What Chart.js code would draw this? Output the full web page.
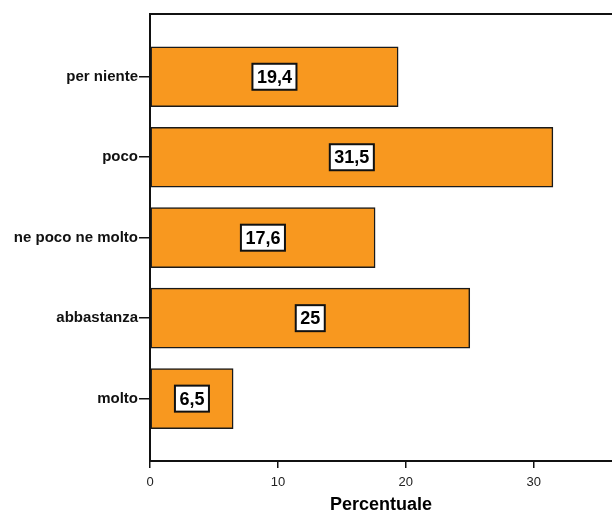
<!DOCTYPE html>
<html>
<head>
<meta charset="utf-8">
<script src="https://cdn.jsdelivr.net/npm/chart.js@4/dist/chart.umd.min.js"></script>
<style>
  body { margin: 0; background: #fff; }
</style>
</head>
<body>
<canvas id="myChart" width="612" height="516"></canvas>
<script>
// Dati del grafico
const categorie = ["per niente", "poco", "ne poco ne molto", "abbastanza", "molto"];
const percentuali = [19.4, 31.5, 17.6, 25, 6.5];
const tickX = [0, 10, 20, 30];

// Etichette dei valori in un riquadro bianco
const etichette = {
    id: "etichette",
    afterDatasetsDraw(chart) {
        const ctx = chart.ctx;
        const meta = chart.getDatasetMeta(0);
        ctx.save();
        ctx.font = "bold 18px 'Liberation Sans', Arial, sans-serif";
        ctx.textAlign = "center";
        ctx.textBaseline = "middle";
        meta.data.forEach((bar, i) => {
            const testo = String(percentuali[i]).replace(".", ",");
            const cx = (bar.x + bar.base) / 2;
            const cy = bar.y;
            const w = ctx.measureText(testo).width + 9;
            const h = 26;
            ctx.fillStyle = "#fff";
            ctx.fillRect(cx - w / 2, cy - h / 2, w, h);
            ctx.lineWidth = 2;
            ctx.strokeStyle = "#111";
            ctx.strokeRect(cx - w / 2, cy - h / 2, w, h);
            ctx.fillStyle = "#000";
            ctx.fillText(testo, cx, cy + 1);
        });
        ctx.restore();
    }
};

// Linea superiore della cornice
const cornice = {
    id: "cornice",
    afterDraw(chart) {
        const { ctx, chartArea } = chart;
        ctx.save();
        ctx.strokeStyle = "#111";
        ctx.lineWidth = 2;
        ctx.beginPath();
        ctx.moveTo(chartArea.left - 1, chartArea.top);
        ctx.lineTo(chartArea.right + 2, chartArea.top);
        ctx.stroke();
        ctx.restore();
    }
};

const myChart = new Chart("myChart", {
    type: "bar",
    data: {
        datasets: [{
            data: percentuali.map((v, i) => ({ x: v, y: i })),
            backgroundColor: "#F8981F",
            borderColor: "#1a1a1a",
            borderWidth: 1.5,
            borderSkipped: false,
            barThickness: 60
        }]
    },
    options: {
        indexAxis: "y",
        responsive: false,
        animation: false,
        layout: { padding: { top: 14, right: 0, left: 0, bottom: 0 } },
        plugins: {
            legend: { display: false },
            tooltip: { enabled: false }
        },
        scales: {
            y: {
                type: "linear",
                reverse: true,
                offset: false,
                min: -0.78,
                max: 4.775,
                afterBuildTicks: (scale) => {
                    scale.ticks = categorie.map((c, i) => ({ value: i }));
                },
                afterFit: (scale) => { scale.width = 150; },
                ticks: {
                    callback: (v) => categorie[v],
                    color: "#111",
                    padding: 1,
                    font: { family: "'Liberation Sans', Arial, sans-serif", size: 15, weight: "bold" }
                },
                grid: { offset: false, drawOnChartArea: false, tickLength: 11, color: "#111", lineWidth: 1.5 },
                border: { color: "#111", width: 2 }
            },
            x: {
                min: 0,
                max: 36.12,
                afterBuildTicks: (scale) => {
                    scale.ticks = tickX.map(v => ({ value: v }));
                },
                afterFit: (scale) => { scale.height = 55; },
                ticks: {
                    color: "#222",
                    padding: 7,
                    maxRotation: 0,
                    font: { family: "'Liberation Sans', Arial, sans-serif", size: 13 }
                },
                grid: { drawOnChartArea: false, tickLength: 7, color: "#111", lineWidth: 1.5 },
                border: { color: "#111", width: 2 },
                title: {
                    display: true,
                    text: "Percentuale",
                    color: "#000",
                    padding: { top: 2, bottom: 0 },
                    font: { family: "'Liberation Sans', Arial, sans-serif", size: 18, weight: "bold" }
                }
            }
        }
    },
    plugins: [etichette, cornice]
});
</script>
</body>
</html>
